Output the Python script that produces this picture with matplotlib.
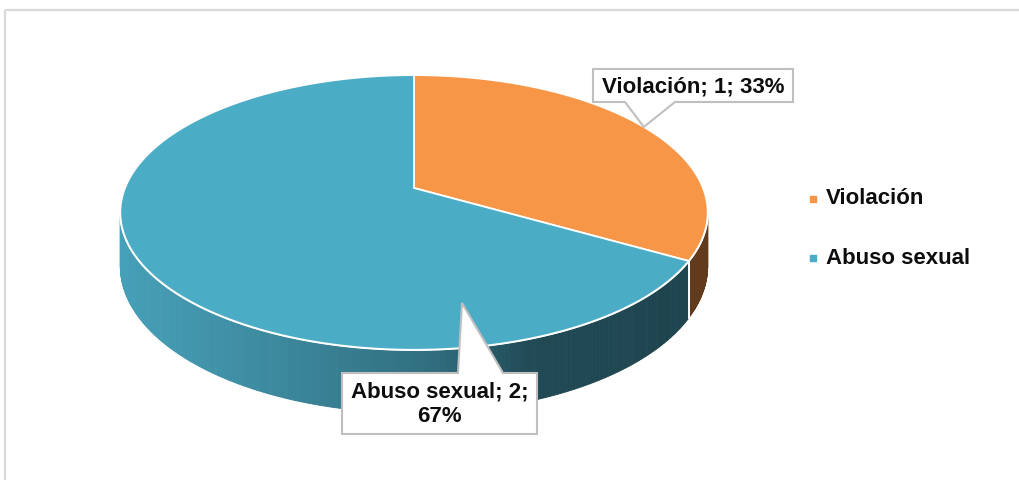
import numpy as np
import matplotlib.pyplot as plt
from matplotlib.patches import Polygon, Rectangle

# ----------------------------
# Data
# ----------------------------
CATEGORIES = ["Violación", "Abuso sexual"]
VALUES = [1, 2]
COLORS = ["#F79646", "#4BACC6"]

# ----------------------------
# Pie geometry (pixel space, y down)
# ----------------------------
CX, CY = 414, 188        # projected centre of the top face
A, B = 289, 133          # radii of the tilted disc
K = 0.178                # perspective strength
DEPTH = 52               # thickness of the disc
START = 90               # first slice starts at 12 o'clock, clockwise

plt.rcParams["font.family"] = ["Liberation Sans", "DejaVu Sans"]


def proj(theta_deg, z=0.0):
    t = np.radians(theta_deg)
    u, v = np.cos(t), np.sin(t)
    w = 1 + K * v
    return CX + A * u / w, CY - B * v / w + DEPTH * z / w


def shade(color, x):
    fac = np.interp(x, [120, 250, 430, 530, 710], [0.93, 0.82, 0.64, 0.43, 0.39])
    rgb = np.array(plt.matplotlib.colors.to_rgb(color))
    return tuple(rgb * fac)


fig = plt.figure(figsize=(10.2, 4.8), dpi=100)
ax = fig.add_axes([0, 0, 1, 1])
ax.set_xlim(0, 1020)
ax.set_ylim(480, 0)
ax.axis("off")

# outer chart frame (only top and left edges fall inside the picture)
ax.add_patch(Rectangle((5, 10), 1200, 600, fill=False, ec="#D9D9D9", lw=1.6))

total = sum(VALUES)
bounds = []
a0 = START
for v in VALUES:
    a1 = a0 - 360 * v / total
    bounds.append((a0, a1))
    a0 = a1

# visible side band: front half between the silhouette tangent points
vis_lo = 180 + np.degrees(np.arcsin(K))
vis_hi = 360 - np.degrees(np.arcsin(K))

for (a0, a1), col in zip(bounds, COLORS):
    lo, hi = a1 % 360, a0 % 360
    segs = [(lo, hi)] if lo < hi else [(lo, 360), (0, hi)]
    for s0, s1 in segs:
        s0, s1 = max(s0, vis_lo), min(s1, vis_hi)
        if s1 <= s0:
            continue
        ts = np.linspace(s0, s1, int((s1 - s0) * 2) + 2)
        for t0, t1 in zip(ts[:-1], ts[1:]):
            p = [proj(t0), proj(t1), proj(t1, 1), proj(t0, 1)]
            c = shade(col, (p[0][0] + p[1][0]) / 2)
            ax.add_patch(Polygon(p, closed=True, fc=c, ec=c, lw=0.6))

# white seam between the side walls of the two slices
for a0, a1 in bounds:
    if vis_lo <= a1 % 360 <= vis_hi:
        x0, y0 = proj(a1)
        x1, y1 = proj(a1, 1)
        ax.plot([x0, x1], [y0, y1], color="white", lw=1.4, zorder=3)

# front rim line where top face meets side
ts = np.linspace(vis_lo - 8, vis_hi + 8, 200)
rim = np.array([proj(t) for t in ts])
ax.plot(rim[:, 0], rim[:, 1], color="white", lw=1.6, zorder=3)

# top faces
for (a0, a1), col in zip(bounds, COLORS):
    ts = np.linspace(a0, a1, 200)
    pts = [(CX, CY)] + [proj(t) for t in ts]
    ax.add_patch(Polygon(pts, closed=True, fc=col, ec="white", lw=1.3, zorder=4))

# ----------------------------
# Callout labels
# ----------------------------
pcts = [100 * v / total for v in VALUES]
labels = [f"{CATEGORIES[0]}; {VALUES[0]}; {pcts[0]:.0f}%",
          f"{CATEGORIES[1]}; {VALUES[1]};\n{pcts[1]:.0f}%"]

mid0 = (bounds[0][0] + bounds[0][1]) / 2
tip0 = proj(mid0)
callouts = [
    # box (left, top, right, bottom), pointer base x0, x1, tip
    ((593, 69, 793, 102), 625, 675, tip0),
    ((342, 373, 537, 434), 458, 503, (462, 303)),
]

for ((l, t, r, b), bx0, bx1, (tx, ty)), txt in zip(callouts, labels):
    if ty > b:
        shape = [(l, t), (r, t), (r, b), (bx1, b), (tx, ty), (bx0, b), (l, b)]
    else:
        shape = [(l, t), (bx0, t), (tx, ty), (bx1, t), (r, t), (r, b), (l, b)]
    ax.add_patch(Polygon(shape, closed=True, fc="white", ec="#BFBFBF", lw=1.5, zorder=6))
    ax.text((l + r) / 2, (t + b) / 2 + 1, txt, ha="center", va="center",
            fontsize=16, fontweight="bold", color="#0D0D0D",
            linespacing=1.2, zorder=7)

# ----------------------------
# Legend
# ----------------------------
leg_y = [199, 258]
for name, col, y in zip(CATEGORIES, COLORS, leg_y):
    ax.scatter([813], [y], marker="s", s=24, color=col, zorder=5)
    ax.text(826, y, name, ha="left", va="center", fontsize=16,
            fontweight="bold", color="#0D0D0D")

fig.savefig("out.png", dpi=100)
